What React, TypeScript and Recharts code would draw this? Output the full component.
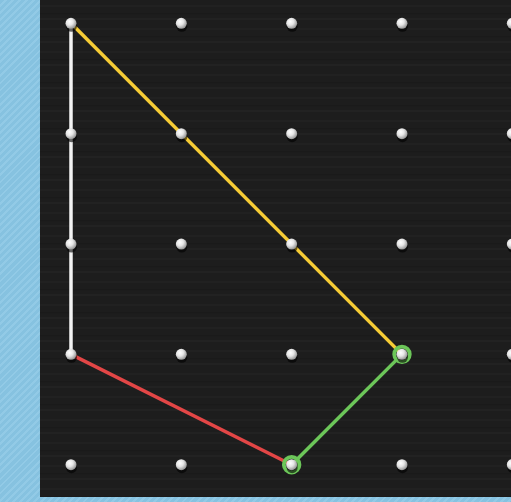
import { ScatterChart, Scatter, XAxis, YAxis, ReferenceArea } from "recharts";

// geoboard: 5 columns x 5 rows of pegs, the last column cut off by the frame
const columns = [0, 1, 2, 3, 4];
const rows = [0, 1, 2, 3, 4];

const whiteBand = [
  { x: 0, y: 0 },
  { x: 0, y: 3 },
];
const yellowBand = [
  { x: 0, y: 0 },
  { x: 3, y: 3 },
];
const greenBand = [
  { x: 3, y: 3 },
  { x: 2, y: 4 },
];
const redBand = [
  { x: 0, y: 3 },
  { x: 2, y: 4 },
];
const selectedPegs = [
  { x: 3, y: 3 },
  { x: 2, y: 4 },
];

const pegs = rows.flatMap((y) => columns.map((x) => ({ x, y })));

const Peg = (props: any) => {
  const { cx, cy } = props;
  return (
    <g>
      <circle cx={cx + 0.5} cy={cy + 3} r={5.5} fill="#000" opacity={0.6} />
      <circle cx={cx} cy={cy} r={5.5} fill="url(#pegFill)" />
    </g>
  );
};

const Ring = (props: any) => {
  const { cx, cy } = props;
  return <circle cx={cx} cy={cy} r={7.8} fill="none" stroke="#6cc659" strokeWidth={3.8} />;
};

const NoDot = () => <g />;

export default function App() {
  return (
    <div
      style={{
        position: "absolute",
        left: 0,
        top: 0,
        width: 511,
        height: 502,
        overflow: "hidden",
        background:
          "repeating-linear-gradient(135deg, #86c2e0 0px, #86c2e0 3px, #92cae6 3px, #92cae6 5px)",
      }}
    >
      <ScatterChart width={540} height={502} margin={{ top: 0, right: 0, bottom: 0, left: 0 }}>
        <defs>
          <radialGradient id="pegFill" cx="38%" cy="35%" r="70%">
            <stop offset="0%" stopColor="#ffffff" />
            <stop offset="45%" stopColor="#e6e6e6" />
            <stop offset="100%" stopColor="#8c8c8c" />
          </radialGradient>
          <pattern id="wood" width="540" height="23" patternUnits="userSpaceOnUse">
            <rect width="540" height="23" fill="#1d1d1d" />
            <rect y="5" width="540" height="2" fill="#212121" />
            <rect y="13" width="540" height="1.5" fill="#1a1a1a" />
            <rect y="18" width="540" height="2" fill="#222222" />
          </pattern>
        </defs>
        <XAxis type="number" dataKey="x" domain={[-0.6435, 4.251]} allowDataOverflow hide />
        <YAxis type="number" dataKey="y" domain={[-0.2115, 4.338]} allowDataOverflow reversed hide />
        <ReferenceArea x1={-0.281} x2={4.251} y1={-0.2115} y2={4.293} fill="url(#wood)" fillOpacity={1} stroke="none" />
        <Scatter data={whiteBand} line={{ stroke: "#f2f2f2", strokeWidth: 3.5 }} shape={NoDot} isAnimationActive={false} />
        <Scatter data={yellowBand} line={{ stroke: "#f6cc35", strokeWidth: 3.5 }} shape={NoDot} isAnimationActive={false} />
        <Scatter data={redBand} line={{ stroke: "#e34646", strokeWidth: 3.5 }} shape={NoDot} isAnimationActive={false} />
        <Scatter data={greenBand} line={{ stroke: "#6cc659", strokeWidth: 3.5 }} shape={NoDot} isAnimationActive={false} />
        <Scatter data={selectedPegs} shape={Ring} isAnimationActive={false} />
        <Scatter data={pegs} shape={Peg} isAnimationActive={false} />
      </ScatterChart>
    </div>
  );
}
